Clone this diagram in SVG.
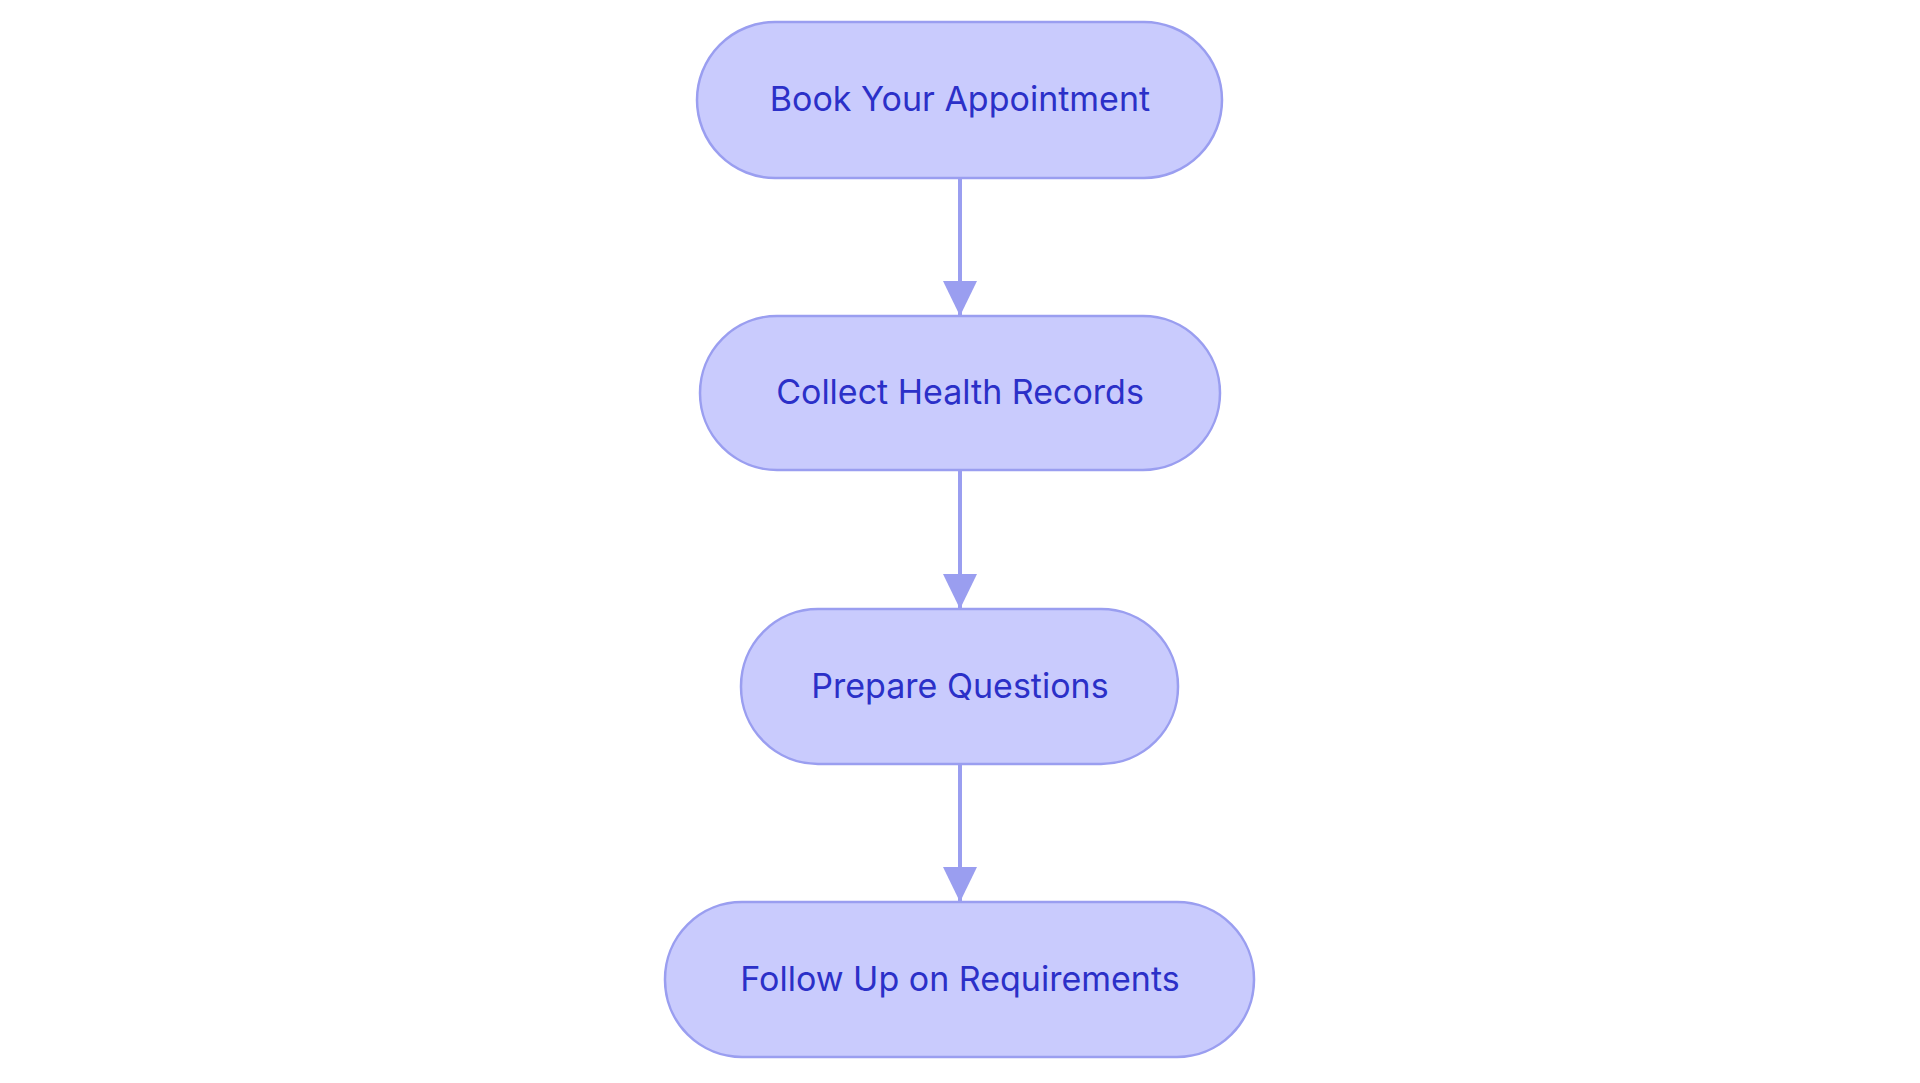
<svg xmlns="http://www.w3.org/2000/svg" width="1920" height="1083" viewBox="0 0 1920 1083">
<style>
.n{fill:#c9cbfd;stroke:#9a9ef0;stroke-width:2.5}
.t{font-family:Inter,"Liberation Sans",sans-serif;font-size:34px;fill:#2b30c8;text-anchor:middle;dominant-baseline:central}
.e{stroke:#9a9ef0;stroke-width:4;fill:none;marker-end:url(#a)}
</style>
<defs><marker id="a" markerWidth="10" markerHeight="10" refX="9" refY="5" orient="auto" markerUnits="userSpaceOnUse" viewBox="0 0 10 10"><path d="M0,0 L10,5 L0,10z" fill="#9a9ef0"/></marker></defs>
<rect width="1920" height="1083" fill="#fff"/>
<g id="edges">
<path class="e" d="M960,178 V316" style="marker-end:none"/>
<path d="M943,281 L977,281 L960,316z" fill="#9a9ef0"/>
<path class="e" d="M960,470 V609" style="marker-end:none"/>
<path d="M943,574 L977,574 L960,609z" fill="#9a9ef0"/>
<path class="e" d="M960,764 V902" style="marker-end:none"/>
<path d="M943,867 L977,867 L960,902z" fill="#9a9ef0"/>
</g>
<g id="n1"><rect class="n" x="697" y="22" width="525" height="156" rx="78"/><text class="t" x="960" y="98">Book Your Appointment</text></g>
<g id="n2"><rect class="n" x="700" y="316" width="520" height="154" rx="77"/><text class="t" x="960" y="391">Collect Health Records</text></g>
<g id="n3"><rect class="n" x="741" y="609" width="437" height="155" rx="77"/><text class="t" x="960" y="685">Prepare Questions</text></g>
<g id="n4"><rect class="n" x="665" y="902" width="589" height="155" rx="77"/><text class="t" x="960" y="978">Follow Up on Requirements</text></g>
</svg>
